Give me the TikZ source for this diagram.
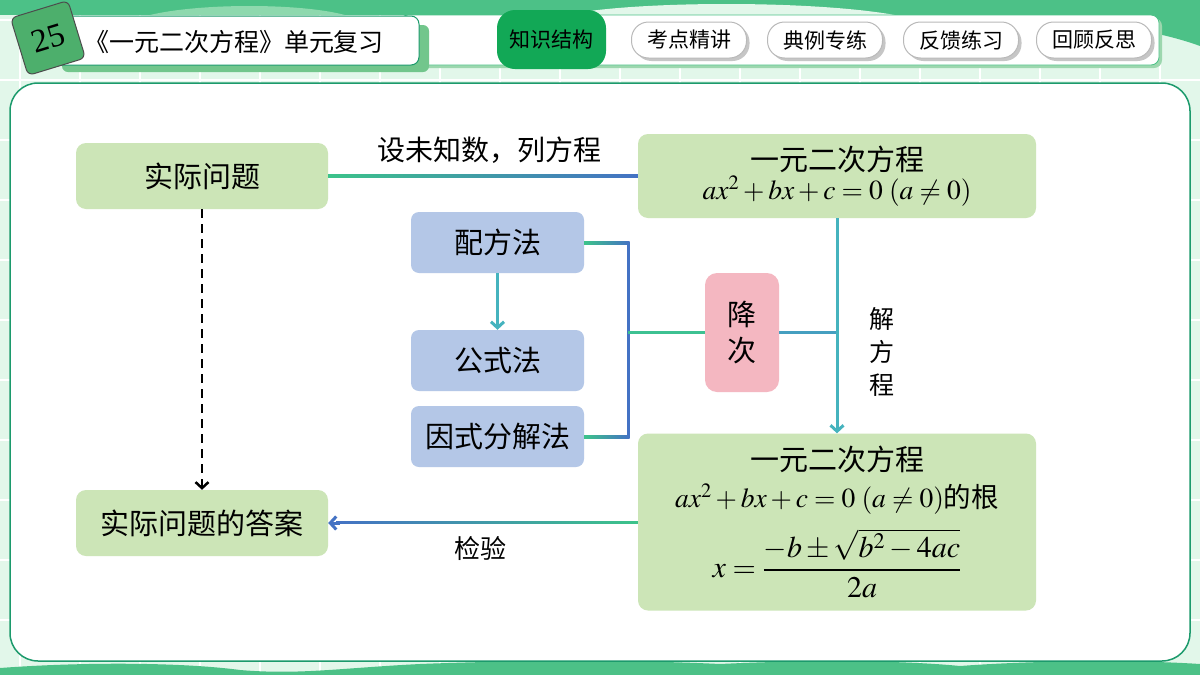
\documentclass[tikz,border=0pt]{standalone}
\usepackage{amsmath}
\usepackage{mathptmx}
\usepackage[no-math]{fontspec}
\setmainfont{Noto Sans CJK SC}
\newfontfamily\numfont{Liberation Serif}
\usetikzlibrary{arrows.meta,calc}
\definecolor{mint}{HTML}{E2F7EA}
\definecolor{topgreen}{HTML}{4CC187}
\definecolor{lightgreen}{HTML}{8ED9AE}
\definecolor{panelline}{HTML}{1C9A6C}
\definecolor{boxgreen}{HTML}{CCE5B7}
\definecolor{boxblue}{HTML}{B4C7E7}
\definecolor{boxpink}{HTML}{F4B7C1}
\definecolor{lgreen}{HTML}{3CC38A}
\definecolor{lblue}{HTML}{4472C4}
\definecolor{lteal}{HTML}{45B3BE}
\definecolor{navgreen}{HTML}{12A856}
\definecolor{badge}{HTML}{4DAF6C}
\definecolor{titleshadow}{HTML}{72C68C}
\newcommand\fsBox{\fontsize{29}{34}\selectfont}
\newcommand\fsMath{\fontsize{27.5}{33}\selectfont}
\newcommand\fsFrac{\fontsize{30}{36}\selectfont}
\newcommand\fsLab{\fontsize{28}{33}\selectfont}
\newcommand\fsNav{\fontsize{21}{25}\selectfont}
\begin{document}
\begin{tikzpicture}[x=1pt,y=-1pt,
  gbox/.style={fill=boxgreen, rounded corners=10pt, inner sep=0pt, align=center, font=\fsBox},
  bbox/.style={fill=boxblue, rounded corners=8pt, inner sep=0pt, minimum width=173pt, minimum height=61pt, font=\fsBox},
  pbox/.style={fill=boxpink, rounded corners=12pt, inner sep=0pt, minimum width=74pt, minimum height=119pt, align=center, font=\fsBox},
  lab/.style={inner sep=0pt, font=\fsLab, align=center},
  pill/.style={draw=gray!55, line width=1pt, fill=white, rounded corners=17pt, minimum width=115pt, minimum height=36pt, inner sep=0pt, font=\fsNav},
  pillshadow/.style={fill=gray!45, rounded corners=17pt},
  barb/.style={-{Straight Barb[length=6pt,width=13pt]}},
  conn/.style={line width=3pt}
]
\useasboundingbox (0,0) rectangle (1200,675);
% background
\fill[mint] (0,0) rectangle (1200,675);
\foreach \x in {20,80,...,1200} \draw[white, line width=1.5pt] (\x,0) -- (\x,675);
\foreach \y in {20,80,...,675} \draw[white, line width=1.5pt] (0,\y) -- (1200,\y);
% top waves
\fill[topgreen] (0,0) rectangle (1200,15);
\fill[topgreen] (880,14) .. controls (1040,14) and (1140,24) .. (1200,46) -- (1200,0) -- (880,0) -- cycle;
\fill[lightgreen] (150,15) .. controls (200,3) and (300,3) .. (345,15) -- cycle;
\fill[mint] (560,16) .. controls (630,0) and (820,0) .. (900,16) -- cycle;
% bottom waves
\fill[topgreen] (0,675) -- (0,668) .. controls (80,662) and (180,662) .. (240,670) .. controls (300,675) and (340,668) .. (420,664) .. controls (520,660) and (640,660) .. (720,664) .. controls (800,660) and (900,660) .. (960,666) .. controls (1040,660) and (1140,660) .. (1200,664) -- (1200,675) -- cycle;
% main panel
\draw[panelline, line width=1.5pt, fill=white, rounded corners=28pt] (10,83) rectangle (1190,661);
% nav bar
\fill[titleshadow!70, rounded corners=8pt] (404,18) rectangle (1162,68);
\draw[topgreen, line width=0.8pt, fill=white, rounded corners=8pt] (400,15) rectangle (1159,65);
% title bar
\fill[titleshadow, rounded corners=6pt] (62,25) rectangle (429,72);
\draw[panelline, line width=1pt, fill=white, rounded corners=8pt] (53,16) rectangle (419,65);
\node[inner sep=0pt, font=\fontsize{25}{30}\selectfont] (title) at (234,42) {《一元二次方程》单元复习};
% badge
\node[rotate=17, fill=badge, draw=black!70, line width=1pt, rounded corners=6pt, minimum size=60pt, inner sep=0pt, font=\numfont\fontsize{33}{36}\selectfont] (badge) at (48,38) {\raisebox{-3pt}{25}};
% nav buttons
\node[fill=navgreen, rounded corners=18pt, minimum width=109pt, minimum height=59pt, inner sep=0pt, font=\fsNav] (nav1) at (551.5,39.5) {知识结构};
\fill[pillshadow] (634.5,25) rectangle (749.5,61);
\node[pill] (nav2) at (689,40) {考点精讲};
\fill[pillshadow] (770.5,25) rectangle (885.5,61);
\node[pill] (nav3) at (825,40) {典例专练};
\fill[pillshadow] (906.5,25) rectangle (1021.5,61);
\node[pill] (nav4) at (961,40) {反馈练习};
\fill[pillshadow] (1039.5,25) rectangle (1154.5,61);
\node[pill] (nav5) at (1094,40) {回顾反思};
% main boxes
\node[gbox, minimum width=252pt, minimum height=66pt] (q) at (202,176) {实际问题};
\node[gbox, minimum width=398pt, minimum height=84pt] (eq) at (837,176)
  {一元二次方程\\[-5pt] {\fsMath $ax^2+bx+c=0\ (a\neq 0)$}};
\node[bbox] (pf) at (497.5,242.5) {配方法};
\node[bbox] (gs) at (497.5,360.5) {公式法};
\node[bbox] (ys) at (497.5,436.5) {因式分解法};
\node[pbox] (jc) at (742,332.5) {降\\[2pt]次};
\node[gbox, minimum width=398pt, minimum height=177pt] (root) at (837,522)
  {一元二次方程\\[3pt] {\fsMath $ax^2+bx+c=0\ (a\neq 0)$的根}\\[14pt]
   {\fsFrac $x=\dfrac{-b\pm\sqrt{b^2-4ac}}{2a}$}};
\node[gbox, minimum width=252pt, minimum height=66pt] (ans) at (202,523) {实际问题的答案};
% labels
\node[lab] (l1) at (489,150) {设未知数，列方程};
\node[lab, font=\fontsize{25}{33}\selectfont] (l2) at (882,352) {解\\方\\程};
\node[lab, font=\fontsize{26}{32}\selectfont] (l3) at (480,549) {检验};
% connectors
\shade[left color=lgreen, right color=lblue] ($(q.east)+(0,-1.5)$) rectangle ($(eq.west)+(0,1.5)$);
\draw[black, line width=2.5pt, dash pattern=on 9pt off 6pt, barb] (q.south) -- (ans.north);
\draw[lteal, conn, barb] (pf.south) -- (gs.north);
\coordinate (bt) at (628,242.5);
\coordinate (bb) at (628,436.5);
\coordinate (bm) at (628,332.5);
\draw[lblue, conn] (bt) -- (bb);
\shade[left color=lgreen, right color=lblue] ($(pf.east)+(0,-1.5)$) rectangle ($(bt)+(1.5,1.5)$);
\shade[left color=lgreen, right color=lblue] ($(ys.east)+(0,-1.5)$) rectangle ($(bb)+(1.5,1.5)$);
\draw[lgreen!85!lteal, conn] (bm) -- (jc.west);
\coordinate (vm) at (jc.east -| eq.south);
\draw[lteal!70!lblue, conn] (jc.east) -- (vm);
\draw[lteal, conn, barb] (eq.south) -- (root.north);
\shade[left color=lblue, right color=lgreen] ($(ans.east)+(8,-1.5)$) rectangle ($(root.west)+(0,1.5)$);
\draw[lblue, conn, barb] ($(ans.east)+(12,0)$) -- (ans.east);
\end{tikzpicture}
\end{document}
